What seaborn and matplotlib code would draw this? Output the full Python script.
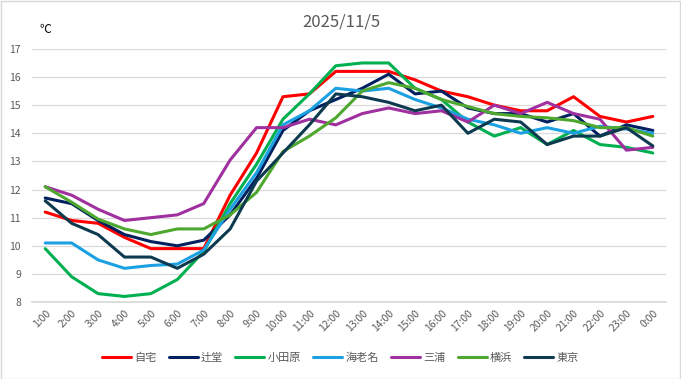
#!/usr/bin/env python3
"""Hourly temperatures at seven stations on 2025/11/5."""

import matplotlib.pyplot as plt
import pandas as pd
import seaborn as sns
from matplotlib.patches import Rectangle

TITLE = "2025/11/5"
UNIT = "℃"

HOURS = [f"{h}:00" for h in range(1, 24)] + ["0:00"]

STATIONS = ["自宅", "辻堂", "小田原", "海老名", "三浦", "横浜", "東京"]
COLORS = ["#FF0000", "#002060", "#00B050", "#1BA1E2", "#A0309F", "#4EA72E",
          "#0E3A50"]

JITAKU = [11.2, 10.9, 10.8, 10.3, 9.9, 9.9, 9.9, 11.8, 13.3, 15.3, 15.4, 16.2,
          16.2, 16.2, 15.9, 15.5, 15.3, 15.0, 14.8, 14.8, 15.3, 14.6, 14.4, 14.6]
TSUJIDO = [11.7, 11.5, 10.9, 10.4, 10.15, 10.0, 10.2, 11.1, 12.4, 14.1, 14.8,
           15.2, 15.6, 16.1, 15.4, 15.5, 14.9, 14.7, 14.7, 14.4, 14.7, 13.9,
           14.3, 14.1]
ODAWARA = [9.9, 8.9, 8.3, 8.2, 8.3, 8.8, 9.8, 11.5, 12.9, 14.5, 15.4, 16.4,
           16.5, 16.5, 15.6, 15.2, 14.4, 13.9, 14.2, 13.6, 14.1, 13.6, 13.5,
           13.3]
EBINA = [10.1, 10.1, 9.5, 9.2, 9.3, 9.35, 9.85, 11.3, 12.6, 14.3, 14.8, 15.6,
         15.5, 15.6, 15.2, 14.9, 14.5, 14.3, 14.0, 14.2, 14.0, 14.25, 14.15,
         14.0]
MIURA = [12.1, 11.8, 11.3, 10.9, 11.0, 11.1, 11.5, 13.05, 14.2, 14.2, 14.5,
         14.3, 14.7, 14.9, 14.7, 14.8, 14.4, 15.0, 14.7, 15.1, 14.7, 14.5, 13.4,
         13.5]
YOKOHAMA = [12.1, 11.55, 10.95, 10.6, 10.4, 10.6, 10.6, 11.1, 11.9, 13.35,
            13.9, 14.55, 15.5, 15.8, 15.6, 15.2, 14.95, 14.7, 14.6, 14.55,
            14.45, 14.2, 14.2, 13.9]
TOKYO = [11.6, 10.8, 10.4, 9.6, 9.6, 9.2, 9.7, 10.6, 12.3, 13.3, 14.3, 15.4,
         15.3, 15.1, 14.8, 15.0, 14.0, 14.5, 14.4, 13.6, 13.9, 13.9, 14.2, 13.55]

GRAY = "#595959"
GRID = "#D9D9D9"


def make_frame():
    """Long table: one row per station and hour."""
    series = [JITAKU, TSUJIDO, ODAWARA, EBINA, MIURA, YOKOHAMA, TOKYO]
    frames = [pd.DataFrame({"hour": HOURS, "temp": vals, "station": name})
              for name, vals in zip(STATIONS, series)]
    return pd.concat(frames, ignore_index=True)


def main():
    sns.set_theme(style="white")
    plt.rcParams["font.family"] = ["Noto Sans CJK JP", "DejaVu Sans"]

    df = make_frame()
    fig = plt.figure(figsize=(6.81, 3.79), dpi=100)
    ax = fig.add_axes([0.047, 0.203, 0.931, 0.668])

    sns.lineplot(data=df, x="hour", y="temp", hue="station",
                 hue_order=STATIONS, palette=dict(zip(STATIONS, COLORS)),
                 sort=False, lw=2.2, ax=ax, legend=False)

    # Aesthetics
    ax.set(xlabel="", ylabel="", xlim=(-0.5, len(HOURS) - 0.5), ylim=(8, 17))
    ax.set_yticks(range(8, 18))
    ax.yaxis.grid(True, color=GRID, lw=0.9)
    ax.set_axisbelow(True)
    for side in ["left", "right", "top"]:
        ax.spines[side].set_visible(False)
    ax.spines["bottom"].set_color(GRID)
    ax.tick_params(axis="both", length=0, labelsize=7.5, labelcolor=GRAY,
                   pad=4)
    ax.tick_params(axis="y", pad=8)
    plt.setp(ax.get_xticklabels(), rotation=45, ha="right",
             rotation_mode="anchor")

    # Legend along the bottom
    handles = [plt.Line2D([], [], color=c, lw=2.2) for c in COLORS]
    fig.legend(handles, STATIONS, loc="center", bbox_to_anchor=(0.5, 0.055),
               ncol=len(STATIONS), frameon=False, fontsize=8,
               labelcolor=GRAY, handlelength=2.6, handletextpad=0.3,
               columnspacing=1.1)

    fig.text(0.501, 0.942, TITLE, ha="center", va="center", fontsize=12,
             color=GRAY)
    fig.text(0.066, 0.921, UNIT, ha="center", va="center", fontsize=8.5,
             color="black")

    fig.patches.append(Rectangle((0.001, 0.001), 0.997, 0.996,
                                 transform=fig.transFigure, fill=False,
                                 edgecolor=GRID, lw=1))

    fig.savefig("out.png", dpi=100)
    plt.close(fig)


if __name__ == '__main__':
    main()
